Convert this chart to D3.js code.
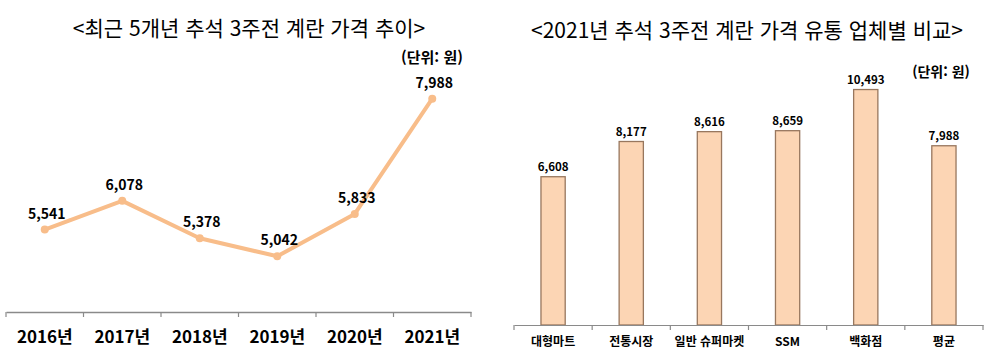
<!DOCTYPE html>
<html lang="ko">
<head>
    <title>계란 가격 차트</title>
    <style>
        body { margin: 0; background: #fff; }
        text { font-family: "Noto Sans CJK KR", "Noto Sans", sans-serif; }
    </style>
    <script src="https://d3js.org/d3.v7.min.js"></script>
</head>
<body>
    <script>
        // data
        const years  = ["2016년", "2017년", "2018년", "2019년", "2020년", "2021년"];
        const yearPrices = [5541, 6078, 5378, 5042, 5833, 7988];

        const stores = ["대형마트", "전통시장", "일반 슈퍼마켓", "SSM", "백화점", "평균"];
        const storePrices = [6608, 8177, 8616, 8659, 10493, 7988];

        const svg = d3.select("body").append("svg")
            .attr("width", 994)
            .attr("height", 352);

        const fmt = d3.format(",");

        // ---- left: line chart ----
        const left = svg.append("g");

        left.append("text")
            .attr("x", 249).attr("y", 36)
            .attr("text-anchor", "middle")
            .attr("font-size", 21)
            .text("<최근 5개년 추석 3주전 계란 가격 추이>");

        left.append("text")
            .attr("x", 432).attr("y", 63)
            .attr("text-anchor", "middle")
            .attr("font-size", 15)
            .attr("font-weight", "bold")
            .text("(단위: 원)");

        const x1 = d3.scaleBand()
            .domain(years)
            .range([6, 471]);

        const y1 = d3.scaleLinear()
            .domain([4000, 8000])
            .range([312, 98]);

        const ax1 = left.append("g")
            .attr("transform", "translate(0,312)")
            .call(d3.axisBottom(x1).tickSize(0).tickPadding(19));
        ax1.select(".domain").attr("stroke", "#8a8a8a").attr("stroke-width", 1.5);
        ax1.selectAll("text")
            .attr("font-size", 17)
            .attr("font-weight", "bold")
            .attr("fill", "#000")
            .style("font-family", "'Noto Sans CJK KR', sans-serif");
        // tick marks between categories
        left.selectAll(".sep")
            .data(years.concat(["end"]))
            .enter().append("line")
            .attr("x1", (d, i) => i < years.length ? x1(d) : x1.range()[1])
            .attr("x2", (d, i) => i < years.length ? x1(d) : x1.range()[1])
            .attr("y1", 312).attr("y2", 317)
            .attr("stroke", "#8a8a8a").attr("stroke-width", 1.2);

        const line = d3.line()
            .x((d, i) => x1(years[i]) + x1.bandwidth() / 2)
            .y(d => y1(d));

        left.append("path")
            .datum(yearPrices)
            .attr("fill", "none")
            .attr("stroke", "#f8bd8a")
            .attr("stroke-width", 4)
            .attr("stroke-linejoin", "round")
            .attr("d", line);

        left.selectAll(".dot")
            .data(yearPrices)
            .enter().append("circle")
            .attr("cx", (d, i) => x1(years[i]) + x1.bandwidth() / 2)
            .attr("cy", d => y1(d))
            .attr("r", 4)
            .attr("fill", "#f8bd8a");

        left.selectAll(".lbl")
            .data(yearPrices)
            .enter().append("text")
            .attr("x", (d, i) => x1(years[i]) + x1.bandwidth() / 2 + 2)
            .attr("y", d => y1(d) - 11)
            .attr("text-anchor", "middle")
            .attr("font-size", 14)
            .attr("font-weight", "bold")
            .text(d => fmt(d));

        // ---- right: bar chart ----
        const right = svg.append("g");

        right.append("text")
            .attr("x", 747).attr("y", 38)
            .attr("text-anchor", "middle")
            .attr("font-size", 21)
            .text("<2021년 추석 3주전 계란 가격 유통 업체별 비교>");

        right.append("text")
            .attr("x", 941).attr("y", 77)
            .attr("text-anchor", "middle")
            .attr("font-size", 14)
            .attr("font-weight", "bold")
            .text("(단위: 원)");

        const x2 = d3.scaleBand()
            .domain(stores)
            .range([514, 983])
            .paddingInner(0.69)
            .paddingOuter(0.345);

        const y2 = d3.scaleLinear()
            .domain([0, 12000])
            .range([325, 325 - 0.02244 * 12000]);

        right.selectAll(".bar")
            .data(storePrices)
            .enter().append("rect")
            .attr("x", (d, i) => x2(stores[i]))
            .attr("y", d => y2(d))
            .attr("width", x2.bandwidth())
            .attr("height", d => 325 - y2(d))
            .attr("fill", "#fcd5b4")
            .attr("stroke", "#98775e")
            .attr("stroke-width", 1.3);

        right.selectAll(".blbl")
            .data(storePrices)
            .enter().append("text")
            .attr("x", (d, i) => x2(stores[i]) + x2.bandwidth() / 2)
            .attr("y", d => y2(d) - 6)
            .attr("text-anchor", "middle")
            .attr("font-size", 11.5)
            .attr("font-weight", "bold")
            .text(d => fmt(d));

        const ax2 = right.append("g")
            .attr("transform", "translate(0,325)")
            .call(d3.axisBottom(x2).tickSize(0).tickPadding(12));
        ax2.select(".domain").attr("stroke", "#8a8a8a").attr("stroke-width", 1.2);
        ax2.selectAll("text")
            .attr("font-size", 12)
            .attr("font-weight", "bold")
            .attr("fill", "#000")
            .style("font-family", "'Noto Sans CJK KR', sans-serif");

        const step = (983 - 514) / stores.length;
        right.selectAll(".sep")
            .data(d3.range(stores.length + 1))
            .enter().append("line")
            .attr("x1", d => 514 + d * step)
            .attr("x2", d => 514 + d * step)
            .attr("y1", 325).attr("y2", 330)
            .attr("stroke", "#8a8a8a").attr("stroke-width", 1.2);
    </script>
</body>
</html>
